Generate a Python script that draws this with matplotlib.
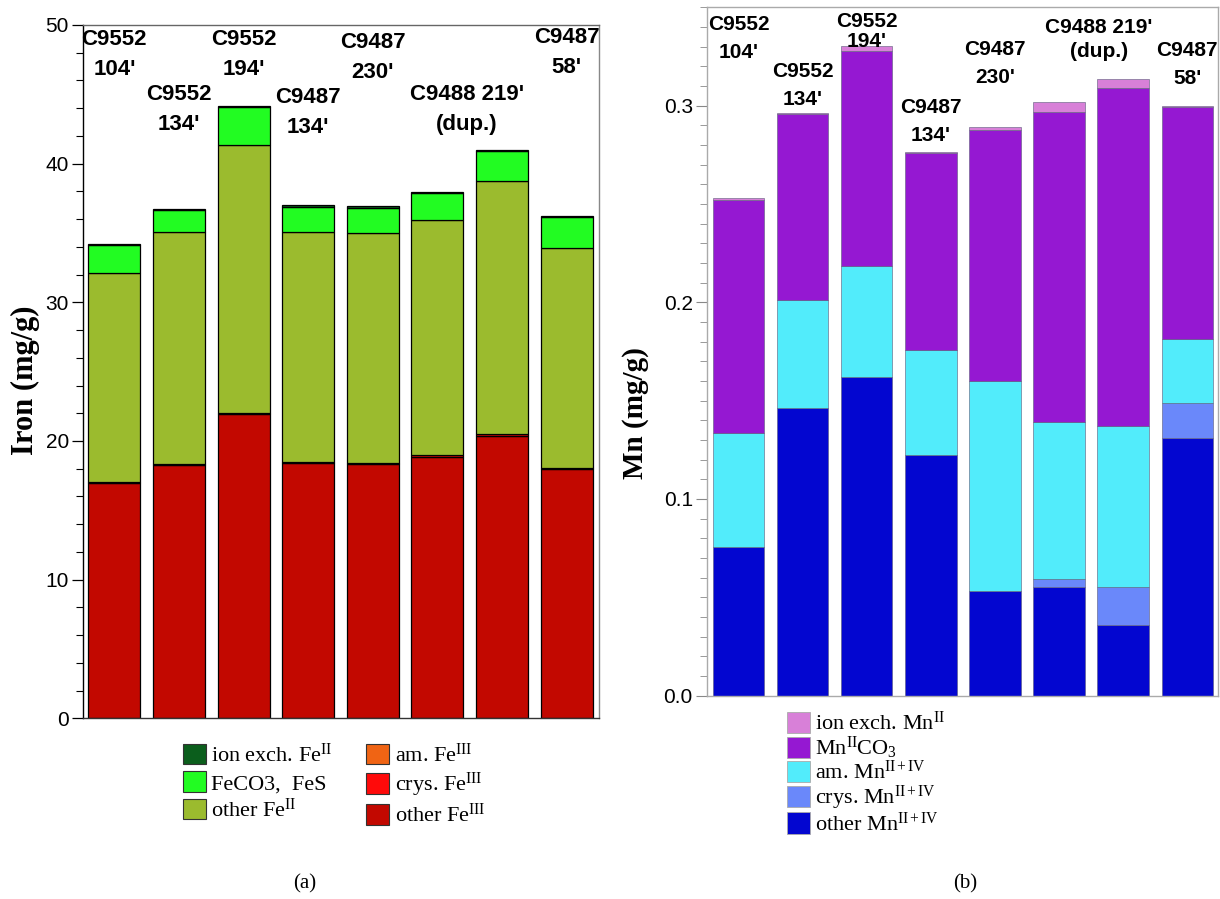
import matplotlib
matplotlib.use("Agg")
import matplotlib.pyplot as plt
from matplotlib.patches import Patch
from matplotlib.ticker import MultipleLocator, FormatStrFormatter
from matplotlib.transforms import blended_transform_factory
import numpy as np

plt.rcParams['mathtext.fontset'] = 'custom'
plt.rcParams['mathtext.rm'] = 'Liberation Serif'
plt.rcParams['mathtext.it'] = 'Liberation Serif:italic'
plt.rcParams['mathtext.bf'] = 'Liberation Serif:bold'

# ---------------- data ----------------
samples = ["C9552 104'", "C9552 134'", "C9552 194'", "C9487 134'",
           "C9487 230'", "C9488 219'", "C9488 219' (dup.)", "C9487 58'"]

# Iron fractions (mg/g), stacked bottom -> top
fe_other_III = [17.00, 18.30, 21.95, 18.40, 18.33, 18.86, 20.33, 18.00]
fe_crys_III = [0.06, 0.06, 0.07, 0.08, 0.10, 0.10, 0.15, 0.07]
fe_am_III = [0.0, 0.0, 0.0, 0.0, 0.0, 0.0, 0.0, 0.0]
fe_other_II = [15.09, 16.71, 19.33, 16.61, 16.59, 16.97, 18.27, 15.84]
fe_co3_fes = [1.95, 1.58, 2.74, 1.81, 1.80, 1.95, 2.15, 2.24]
fe_ionex_II = [0.10, 0.10, 0.10, 0.10, 0.10, 0.10, 0.10, 0.10]

# Manganese fractions (mg/g), stacked bottom -> top
mn_other = [0.0756, 0.1463, 0.1621, 0.1223, 0.0532, 0.0552, 0.0360, 0.1311]
mn_crys = [0.0, 0.0, 0.0, 0.0, 0.0, 0.0039, 0.0194, 0.0177]
mn_am = [0.0579, 0.0550, 0.0564, 0.0534, 0.1067, 0.0800, 0.0819, 0.0323]
mn_co3 = [0.1185, 0.0942, 0.1094, 0.1000, 0.1276, 0.1575, 0.1716, 0.1182]
mn_ionex = [0.0010, 0.0006, 0.0025, 0.0007, 0.0017, 0.0053, 0.0047, 0.0003]

# bar annotation texts
ann_texts = ["C9552\n104'", "C9552\n134'", "C9552\n194'", "C9487\n134'",
             "C9487\n230'", "C9488 219'\n(dup.)", "C9487\n58'"]

# ---------------- figure ----------------
fig = plt.figure(figsize=(12.2, 8.99), dpi=100)
W, H = 1220.0, 899.0

def ax_rect(x0, y0, x1, y1):
    return [x0 / W, 1 - y1 / H, (x1 - x0) / W, (y1 - y0) / H]

axL = fig.add_axes(ax_rect(82.7, 25.0, 598.7, 718.3))
axR = fig.add_axes(ax_rect(706.7, 7.3, 1218.3, 695.5))

x = np.arange(len(samples))

# ---- Iron ----
fe_layers = [
    (fe_other_III, '#c20800', 'other Fe$^{\\mathrm{III}}$'),
    (fe_crys_III, '#ff0a0a', 'crys. Fe$^{\\mathrm{III}}$'),
    (fe_am_III, '#f06414', 'am. Fe$^{\\mathrm{III}}$'),
    (fe_other_II, '#9bbb2e', 'other Fe$^{\\mathrm{II}}$'),
    (fe_co3_fes, '#22fc22', 'FeCO3,  FeS'),
    (fe_ionex_II, '#0b5e1c', 'ion exch. Fe$^{\\mathrm{II}}$'),
]
bottom = np.zeros(len(x))
for vals, col, lab in fe_layers:
    v = np.array(vals)
    axL.bar(x, v, 0.805, bottom=bottom, color=col, edgecolor='black', linewidth=0.9)
    bottom += v

axL.set_xlim(-0.49, 7.495)
axL.set_ylim(0, 50)
axL.yaxis.set_major_locator(MultipleLocator(10))
axL.yaxis.set_minor_locator(MultipleLocator(2))
axL.set_xticks([])
axL.tick_params(axis='y', which='major', direction='out', length=8, width=0.9,
                labelsize=15, pad=2)
axL.tick_params(axis='y', which='minor', direction='out', length=5, width=0.8)
for lab in axL.get_yticklabels():
    lab.set_family('Liberation Sans')
axL.spines['left'].set_color('black')
axL.spines['bottom'].set_color('#333333')
axL.spines['top'].set_color('#666666')
axL.spines['right'].set_color('#888888')
for s in axL.spines.values():
    s.set_linewidth(1.0)
axL.set_ylabel('Iron (mg/g)', family='Liberation Serif', fontweight='bold',
               fontsize=22, labelpad=2)
axL.yaxis.set_label_coords(-0.083, (718.3 - 380) / 693.3)

trL = blended_transform_factory(axL.transData, fig.transFigure)
posL = [(0, 39), (1, 94), (2, 39), (3, 97), (4, 42), (5.45, 94), (7.0, 37)]
for (xd, yp), t in zip(posL, ann_texts):
    axL.text(xd, 1 - (yp - 10) / H, t, transform=trL,
             ha='center', va='top', fontsize=16, fontweight='bold',
             family='Liberation Sans', linespacing=1.55)

handlesL = [Patch(facecolor=c, edgecolor='#333333', linewidth=0.8, label=l)
            for (_, c, l) in fe_layers]
order = [5, 4, 3, 2, 1, 0]
fig.legend([handlesL[i] for i in order], [fe_layers[i][2] for i in order],
           loc='upper left', bbox_to_anchor=(167 / W, 1 - 728 / H), ncol=2,
           frameon=False, prop={'family': 'Liberation Serif', 'size': 16},
           handlelength=1.05, handleheight=1.05, handletextpad=0.25,
           labelspacing=0.2, columnspacing=1.5, borderpad=0.2)

# ---- Manganese ----
mn_layers = [
    (mn_other, '#0306d0', 'other Mn$^{\\mathrm{II+IV}}$'),
    (mn_crys, '#6a88fa', 'crys. Mn$^{\\mathrm{II+IV}}$'),
    (mn_am, '#52ecfb', 'am. Mn$^{\\mathrm{II+IV}}$'),
    (mn_co3, '#9518d2', 'Mn$^{\\mathrm{II}}$CO$_{3}$'),
    (mn_ionex, '#d880d8', 'ion exch. Mn$^{\\mathrm{II}}$'),
]
bottom = np.zeros(len(x))
for vals, col, lab in mn_layers:
    v = np.array(vals)
    axR.bar(x, v, 0.8, bottom=bottom, color=col, edgecolor='#5a5a7a', linewidth=0.4)
    bottom += v

axR.set_xlim(-0.5, 7.486)
axR.set_ylim(0, 0.35)
axR.yaxis.set_major_locator(MultipleLocator(0.1))
axR.yaxis.set_minor_locator(MultipleLocator(0.01))
axR.yaxis.set_major_formatter(FormatStrFormatter('%.1f'))
axR.set_xticks([])
axR.tick_params(axis='y', which='major', direction='out', length=8, width=0.8,
                labelsize=15, pad=2, color='#888888')
axR.tick_params(axis='y', which='minor', direction='out', length=5, width=0.7,
                color='#999999')
for lab in axR.get_yticklabels():
    lab.set_family('Liberation Sans')
for s in axR.spines.values():
    s.set_color('#aaaaaa')
    s.set_linewidth(1.0)
axR.set_ylabel('Mn (mg/g)', family='Liberation Serif', fontweight='bold',
               fontsize=21, labelpad=6)
axR.yaxis.set_label_coords(-0.112, (695.5 - 413) / 688.2)

trR = blended_transform_factory(axR.transData, fig.transFigure)
posR = [(0, 24, 1.62), (1, 71, 1.62), (2, 21, 1.05), (3, 107, 1.62),
        (4, 49, 1.62), (5.62, 27, 1.35), (7.0, 50, 1.62)]
for (xd, yp, ls), t in zip(posR, ann_texts):
    axR.text(xd, 1 - (yp - 9) / H, t, transform=trR,
             ha='center', va='top', fontsize=15, fontweight='bold',
             family='Liberation Sans', linespacing=ls)

handlesR = [Patch(facecolor=c, edgecolor='#aaaaaa', linewidth=0.6, label=l)
            for (_, c, l) in mn_layers]
orderR = [4, 3, 2, 1, 0]
fig.legend([handlesR[i] for i in orderR], [mn_layers[i][2] for i in orderR],
           loc='upper left', bbox_to_anchor=(771 / W, 1 - 696 / H), ncol=1,
           frameon=False, prop={'family': 'Liberation Serif', 'size': 16},
           handlelength=1.05, handleheight=1.1, handletextpad=0.25,
           labelspacing=0.0, borderpad=0.2)

fig.text(305 / W, 1 - 884 / H, '(a)', ha='center', va='center',
         family='Liberation Serif', fontsize=15)
fig.text(965 / W, 1 - 884 / H, '(b)', ha='center', va='center',
         family='Liberation Serif', fontsize=15)

fig.savefig('out.png', dpi=100)
